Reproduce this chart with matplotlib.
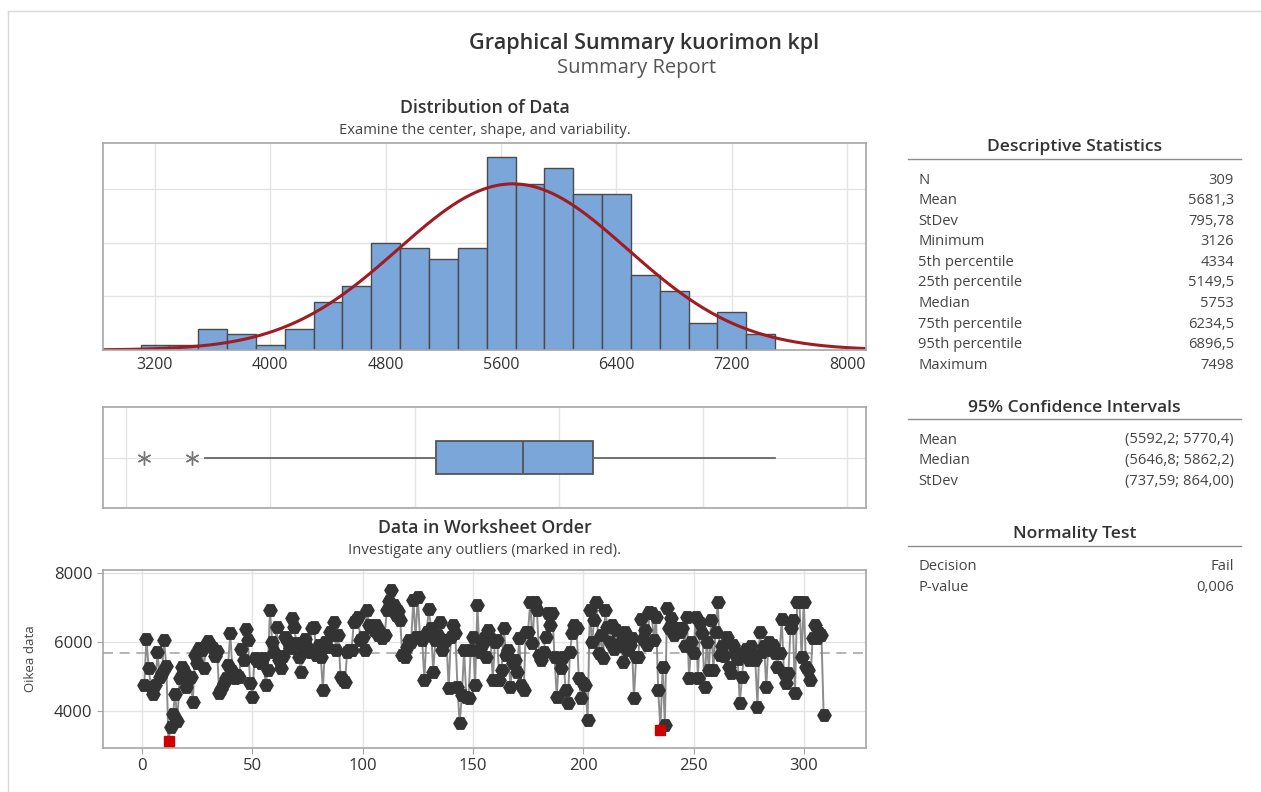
import numpy as np
import matplotlib.pyplot as plt
from matplotlib.lines import Line2D

plt.rcParams['font.family'] = ['Open Sans', 'DejaVu Sans']

# histogram: bin edges (width 200) and counts per bin
bin_edges = [3100, 3300, 3500, 3700, 3900, 4100, 4300, 4500, 4700, 4900, 5100, 5300,
             5500, 5700, 5900, 6100, 6300, 6500, 6700, 6900, 7100, 7300, 7500]
counts = [1, 1, 4, 3, 1, 4, 9, 12, 20, 19, 17, 19, 36, 31, 34, 29, 29, 14, 11, 5, 7, 3]

# summary numbers
n_obs = 309
mean = 5681.3
stdev = 795.78
minimum = 3126
q1 = 5149.5
median = 5753
q3 = 6234.5
maximum = 7498

# kuorimon kpl in worksheet order
series = [
    4750, 6100, 5250, 4700, 4500, 4750, 5700, 5000, 5100, 6050,
    5300, 3126, 3550, 3900, 4500, 3700, 4950, 5280, 5150, 4700,
    4900, 5000, 4270, 5620, 5380, 5820, 5770, 5240, 5900, 6040,
    5910, 5820, 5600, 5750, 4510, 4650, 4800, 4950, 5330, 6250,
    5150, 4950, 5040, 5000, 5790, 5480, 6370, 6060, 4800, 4420,
    5530, 5450, 5480, 5380, 5550, 4750, 5190, 6930, 6010, 5720,
    6440, 5480, 5240, 5600, 6150, 6010, 5820, 6690, 6440, 5960,
    5570, 5140, 5770, 6100, 5860, 5700, 6400, 6440, 5620, 5900,
    5570, 4610, 6010, 5850, 6300, 6200, 6590, 5770, 6200, 5000,
    4900, 4850, 5720, 5770, 5770, 6590, 6640, 6730, 6060, 6150,
    5770, 6930, 6500, 6440, 6350, 6500, 6200, 6300, 6110, 6200,
    6930, 7200, 7498, 7070, 6780, 6900, 6640, 5620, 5570, 5860,
    6060, 6010, 7220, 6150, 7310, 6150, 6060, 4900, 6300, 6950,
    6400, 5140, 6060, 6200, 6590, 5770, 6000, 6060, 4660, 6150,
    6490, 6250, 4700, 3640, 4460, 5770, 4420, 4370, 5770, 6150,
    4750, 7070, 5720, 5900, 6110, 5570, 6350, 6100, 4900, 6010,
    6060, 4900, 5190, 6400, 5620, 5770, 4700, 5380, 5480, 5140,
    6110, 4750, 4610, 6300, 6300, 7170, 5960, 7170, 6930, 5620,
    5480, 5700, 6150, 6830, 6500, 6830, 5570, 4420, 5530, 5240,
    5570, 4610, 4220, 5720, 6250, 6490, 6400, 4950, 4370, 4800,
    4750, 3740, 6930, 6010, 6640, 7170, 5670, 6200, 5530, 6930,
    6440, 6010, 6490, 5800, 6350, 5870, 6010, 5430, 6300, 5770,
    5900, 6110, 4370, 5570, 5570, 6660, 6100, 6350, 5910, 6880,
    6830, 6060, 6730, 4610, 3460, 5290, 3600, 6980, 6400, 6690,
    6200, 6400, 6400, 6300, 6400, 5870, 6730, 4950, 6010, 5670,
    6730, 4950, 6540, 6250, 4700, 6010, 5190, 6640, 5190, 6300,
    7150, 5620, 5870, 5600, 6150, 5290, 5090, 5910, 5670, 5500,
    4220, 5000, 5720, 5800, 5480, 5870, 5600, 5480, 4130, 6300,
    5700, 5870, 4700, 6010, 5770, 5900, 5670, 5290, 5670, 6660,
    5090, 4800, 5090, 6400, 6640, 4510, 7170, 7170, 5570, 7170,
    5290, 5190, 4900, 6110, 6490, 6110, 6250, 6200, 3880,
]

desc_labels = ['N', 'Mean', 'StDev', 'Minimum', '5th percentile', '25th percentile',
               'Median', '75th percentile', '95th percentile', 'Maximum']
desc_values = ['309', '5681,3', '795,78', '3126', '4334', '5149,5', '5753',
               '6234,5', '6896,5', '7498']
ci_labels = ['Mean', 'Median', 'StDev']
ci_values = ['(5592,2; 5770,4)', '(5646,8; 5862,2)', '(737,59; 864,00)']
norm_labels = ['Decision', 'P-value']
norm_values = ['Fail', '0,006']

W, H = 1261, 792
fig = plt.figure(figsize=(W / 100, H / 100), dpi=100)

bar_blue = '#7BA6DA'
edge_dark = '#4a4a4a'
spine_grey = '#a6a6a6'
grid_grey = '#e4e4e4'
text_dark = '#333333'
head_weight = 'semibold'


def px_axes(left, top, right, bottom):
    return fig.add_axes([left / W, 1 - bottom / H, (right - left) / W, (bottom - top) / H])


def style_frame(ax):
    for s in ax.spines.values():
        s.set_color(spine_grey)
        s.set_linewidth(1.2)
    ax.set_axisbelow(True)


# outer frame lines
fig.add_artist(Line2D([8 / W, 1], [1 - 11 / H] * 2, transform=fig.transFigure, color='#d9d9d9', lw=1))
fig.add_artist(Line2D([8 / W] * 2, [0, 1 - 11 / H], transform=fig.transFigure, color='#d9d9d9', lw=1))

fig.text(644 / W, 1 - 44 / H, 'Graphical Summary kuorimon kpl', ha='center', va='center',
         fontsize=15.5, fontweight=head_weight, color=text_dark)
fig.text(637 / W, 1 - 68 / H, 'Summary Report', ha='center', va='center', fontsize=14.5, color='#555555')

xlo, xhi = 2840, 8130

# --- histogram with fitted normal curve
fig.text(485 / W, 1 - 108 / H, 'Distribution of Data', ha='center', va='center',
         fontsize=12.8, fontweight=head_weight, color=text_dark)
fig.text(485 / W, 1 - 131 / H, 'Examine the center, shape, and variability.', ha='center', va='center',
         fontsize=10.6, color='#444444')
ax1 = px_axes(103, 143, 866, 350)
ax1.bar(bin_edges[:-1], counts, width=np.diff(bin_edges), align='edge', color=bar_blue,
        edgecolor=edge_dark, linewidth=1)
xs = np.linspace(xlo, xhi, 400)
bw = bin_edges[1] - bin_edges[0]
pdf = n_obs * bw * np.exp(-0.5 * ((xs - mean) / stdev) ** 2) / (stdev * np.sqrt(2 * np.pi))
ax1.plot(xs, pdf, color='#A01C22', lw=2.2)
ax1.set_xlim(xlo, xhi)
ax1.set_ylim(0, 38.6)
ax1.set_xticks([3200, 4000, 4800, 5600, 6400, 7200, 8000])
ax1.set_yticks([10, 20, 30])
ax1.tick_params(axis='x', length=0, labelsize=11.5, labelcolor=text_dark, pad=5)
ax1.tick_params(axis='y', length=0, labelleft=False)
ax1.grid(True, color=grid_grey, lw=1)
style_frame(ax1)

# --- boxplot
ax2 = px_axes(103, 407, 866, 508)
vals = np.array(series, dtype=float)
fence = q1 - 1.5 * (q3 - q1)
whislo = vals[vals >= fence].min()
fliers = vals[vals < fence]
ax2.bxp([{'med': median, 'q1': q1, 'q3': q3, 'whislo': whislo, 'whishi': maximum, 'fliers': fliers}],
        positions=[0.5], widths=0.33, orientation='horizontal', patch_artist=True, showcaps=False,
        boxprops=dict(facecolor=bar_blue, edgecolor='#555555', linewidth=1.3),
        medianprops=dict(color='#555555', linewidth=1.3),
        whiskerprops=dict(color='#666666', linewidth=1.3),
        flierprops=dict(marker=(6, 2, 0), markersize=10, markeredgecolor='#777777',
                        markerfacecolor='none', markeredgewidth=1.0))
ax2.set_xlim(xlo, xhi)
ax2.set_ylim(0, 1)
ax2.set_xticks([3000, 4000, 5000, 6000, 7000, 8000])
ax2.set_yticks([0.5])
ax2.tick_params(length=0, labelbottom=False, labelleft=False)
ax2.grid(True, color=grid_grey, lw=1)
style_frame(ax2)

# --- data in worksheet order
fig.text(485 / W, 1 - 528 / H, 'Data in Worksheet Order', ha='center', va='center',
         fontsize=12.8, fontweight=head_weight, color=text_dark)
fig.text(485 / W, 1 - 550 / H, 'Investigate any outliers (marked in red).', ha='center', va='center',
         fontsize=10.6, color='#444444')
ax3 = px_axes(103, 570, 866, 748)
idx = np.arange(1, len(vals) + 1)
out = vals < fence
ax3.axhline(mean, color='#a8a8a8', lw=1.2, ls=(0, (6, 4)), zorder=1)
ax3.plot(idx, vals, color='#8c8c8c', lw=1.4, zorder=2)
ax3.plot(idx[~out], vals[~out], 'H', color='#333333', ms=9.5, ls='none', zorder=3)
ax3.plot(idx[out], vals[out], 's', color='#CC0000', ms=7, ls='none', zorder=4)
ax3.set_xlim(-17.7, 328.2)
ax3.set_ylim(2928, 8087)
ax3.set_xticks([0, 50, 100, 150, 200, 250, 300])
ax3.set_yticks([4000, 6000, 8000])
ax3.tick_params(labelsize=12, labelcolor=text_dark, color=spine_grey, length=4)
ax3.set_ylabel('Oikea data', fontsize=9.5, color='#444444', labelpad=12)
ax3.grid(True, color=grid_grey, lw=1)
style_frame(ax3)

# --- right-hand tables
x_lab, x_val = 918 / W, 1234 / W
x_l0, x_l1 = 908 / W, 1241 / W


def table(title, title_y, line_y, row_y0, labels, values, step=20.6):
    fig.text((x_l0 + x_l1) / 2, 1 - title_y / H, title, ha='center', va='center',
             fontsize=12.6, fontweight=head_weight, color=text_dark)
    fig.add_artist(Line2D([x_l0, x_l1], [1 - line_y / H] * 2, transform=fig.transFigure,
                          color='#8c8c8c', lw=1))
    for i, (lab, val) in enumerate(zip(labels, values)):
        y = 1 - (row_y0 + i * step) / H
        fig.text(x_lab, y, lab, ha='left', va='center', fontsize=10.6, color='#444444')
        fig.text(x_val, y, val, ha='right', va='center', fontsize=10.6, color='#444444')


table('Descriptive Statistics', 147, 159, 180, desc_labels, desc_values)
table('95% Confidence Intervals', 408, 419, 440, ci_labels, ci_values)
table('Normality Test', 534, 546, 567, norm_labels, norm_values)

fig.savefig('out.png', dpi=100)
